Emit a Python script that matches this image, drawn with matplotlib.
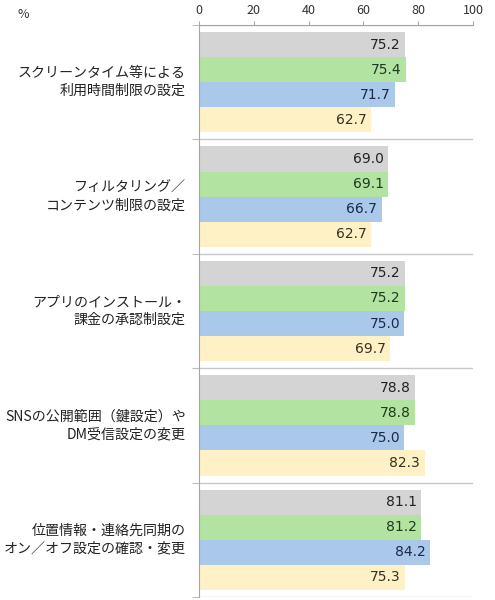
import matplotlib
matplotlib.use("Agg")
import matplotlib.pyplot as plt
import numpy as np

plt.rcParams['font.family'] = ['Noto Sans CJK JP', 'DejaVu Sans']

categories = [
    "スクリーンタイム等による\n利用時間制限の設定",
    "フィルタリング／\nコンテンツ制限の設定",
    "アプリのインストール・\n課金の承認制設定",
    "SNSの公開範囲（鍵設定）や\nDM受信設定の変更",
    "位置情報・連絡先同期の\nオン／オフ設定の確認・変更",
]
series_gray = [75.2, 69.0, 75.2, 78.8, 81.1]
series_green = [75.4, 69.1, 75.2, 78.8, 81.2]
series_blue = [71.7, 66.7, 75.0, 75.0, 84.2]
series_yellow = [62.7, 62.7, 69.7, 82.3, 75.3]
x_ticks = [0, 20, 40, 60, 80, 100]

series = [series_gray, series_green, series_blue, series_yellow]
colors = ["#d4d4d4", "#b3e3a1", "#a9c8ea", "#fff1c6"]
text_colors = ["#222222", "#1f3a1f", "#1c2a48", "#3a3020"]

fig = plt.figure(figsize=(4.95, 6.0), dpi=100)
ax = fig.add_axes([199/495, 3/600, 274/495, (597-25)/600])

n = len(categories)
bh = 0.219
offsets = [-1.5*bh, -0.5*bh, 0.5*bh, 1.5*bh]
for s, vals in enumerate(series):
    for i, v in enumerate(vals):
        y = i + offsets[s]
        ax.barh(y, v, height=bh, color=colors[s], edgecolor='none', zorder=2)
        ax.text(v - 1.6, y, f"{v:.1f}", ha='right', va='center',
                fontsize=10, color=text_colors[s], zorder=3,
                family=['DejaVu Sans'])

ax.set_xlim(0, 100)
ax.set_ylim(n - 0.5, -0.5)
ax.xaxis.tick_top()
ax.set_xticks(x_ticks)
ax.set_xticklabels([str(t) for t in x_ticks], fontsize=9, color='#333333')
ax.tick_params(axis='x', length=3, color='#a6a6a6', pad=3)

bounds = np.arange(-0.5, n, 1.0)
ax.set_yticks(bounds)
ax.set_yticklabels([])
ax.tick_params(axis='y', length=5, color='#bfbfbf', direction='out')
for b in bounds:
    ax.axhline(b, color='#c8c8c8', lw=1.0, zorder=1)

for i, c in enumerate(categories):
    ax.text(-0.048, i, c, transform=ax.get_yaxis_transform(), ha='right',
            va='center', fontsize=10.1, color='#222222', linespacing=1.35)

for sp in ['right', 'bottom']:
    ax.spines[sp].set_visible(False)
ax.spines['top'].set_color('#a6a6a6')
ax.spines['left'].set_color('#a6a6a6')

fig.text(18/495, 1 - 15/600, "%", fontsize=9, color='#333333', ha='left', va='center')

fig.savefig("out.png", dpi=100)
